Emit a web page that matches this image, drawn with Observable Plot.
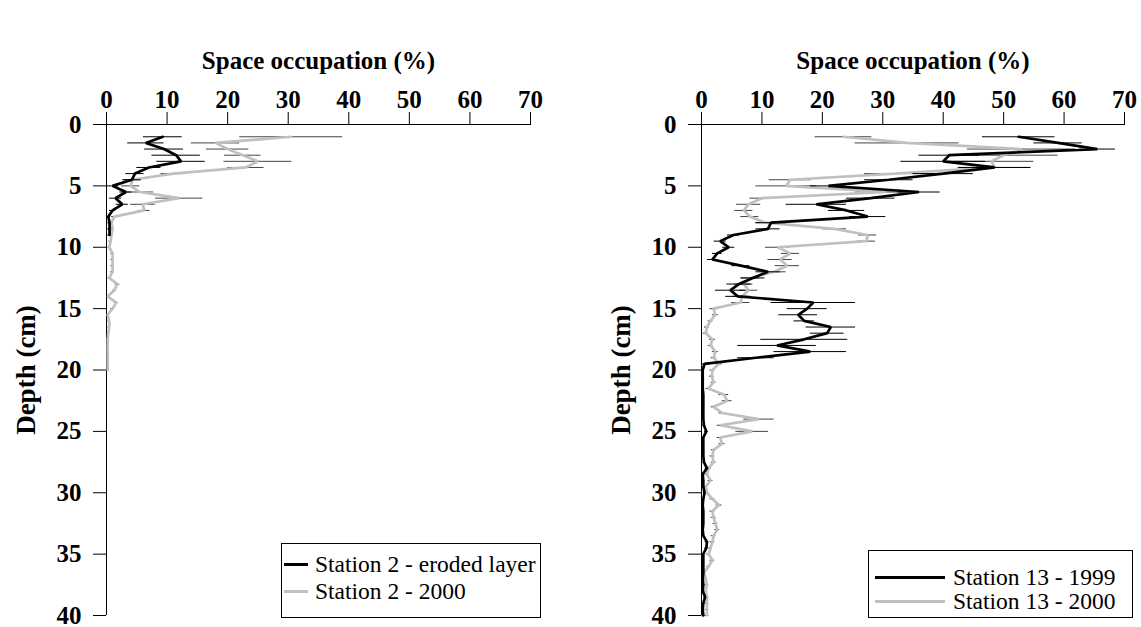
<!DOCTYPE html>
<html><head><meta charset="utf-8">
<script src="https://cdn.jsdelivr.net/npm/d3@7"></script>
<script src="https://cdn.jsdelivr.net/npm/@observablehq/plot@0.6"></script>
<style>
body{margin:0;background:#fff;width:1141px;height:627px;position:relative;overflow:hidden;font-family:"Liberation Serif","Times New Roman",serif;}
.panel{position:absolute;top:0;}
.legend{position:absolute;border:1px solid #000;background:#fff;font-size:23.5px;box-sizing:border-box;}
.row{position:absolute;left:0;height:0;}
.sw{position:absolute;top:-1.5px;height:3px;}
.lt{position:absolute;top:-13px;line-height:26px;white-space:nowrap;}
</style></head><body>
<div id="left" class="panel" style="left:0"></div>
<div id="right" class="panel" style="left:595px"></div>
<script>
// ---- data ----
const xTicks = [0, 10, 20, 30, 40, 50, 60, 70];
const yTicks = [0, 5, 10, 15, 20, 25, 30, 35, 40];
const depths = [1,1.5,2,2.5,3,3.5,4,4.5,5,5.5,6,6.5,7,7.5,8,8.5,9,9.5,10,10.5,
  11,11.5,12,12.5,13,13.5,14,14.5,15,15.5,16,16.5,17,17.5,18,18.5,19,19.5,20,20.5,
  21,21.5,22,22.5,23,23.5,24,24.5,25,25.5,26,26.5,27,27.5,28,28.5,29,29.5,30,30.5,
  31,31.5,32,32.5,33,33.5,34,34.5,35,35.5,36,36.5,37,37.5,38,38.5,39,39.5,40];

// Station 2 - eroded layer (depth 1 - 9 cm)
const st2ErodedVal = [9.3,6.5,9.5,11.5,12.3,7,4.7,4.2,1.0,3.2,1.5,2.6,1.0,0.3,0.5,0.5,0.5];
const st2ErodedErr = [3.2,3,3.2,4,4,2,1.5,1.5,1,1,1,1,0.5,0.3,0.3,0.3,0.3];
// Station 2 - 2000 (depth 1 - 20 cm)
const st2y2000Val = [30.5,18,20,22.5,25,23,11,4.3,4,5.5,12,6,6.2,1.3,0.8,1.0,0.8,0.7,0.45,1,
  1,1,1,0.45,1.8,1.3,0.2,1.6,1.0,0.2,0.45,0.45,0.3,0.2,0.2,0.2,0.2,0.2,0.2];
const st2y2000Err = [8.5,4,3.5,3,5.6,3,2,1.5,1.5,2.3,3.9,2,1,0.5,0.3,0.3,0.3,0.3,0.2,0.3,
  0.3,0.3,0.3,0.2,0.4,0.3,0.2,0.3,0.3,0.2,0.2,0.2,0.2,0.2,0.2,0.2,0.2,0.2,0.2];
// Station 13 - 1999 (depth 1 - 40 cm)
const st13y1999Val = [52.5,59,65.5,41,40,48.5,40,31,21,36,28,19,24,27.5,11.5,11,5.3,3.1,4.5,2.6,
  1.8,6.5,11,8.5,6.2,4.8,6,18.5,17.5,16,17,21.4,20.8,17,12.5,18,9,0.5,0.2,0.2,
  0.2,0.2,0.3,0.3,0.3,0.3,0.3,0.4,0.8,0.3,0.3,0.3,0.3,0.4,0.9,0.2,0.3,0.3,0.5,0.3,
  0.2,0.3,0.3,0.3,0.2,0.3,0.9,0.8,0.3,0.3,0.3,0.3,0.2,0.3,0.2,0.6,0.3,0.2,0.3];
const st13y1999Err = [6,4,3,5,7,6,5,4,3,3.5,4,5,3,3,2.5,2,1,1,1,0.8,
  0.8,1.5,2,2,2,2.5,2,7,3.3,3.2,1.7,4.1,2.8,7.2,6.5,6,3,0.5,0.3,0.3,
  0.2,0.2,0.2,0.2,0.2,0.2,0.2,0.2,0.3,0.2,0.2,0.2,0.2,0.2,0.3,0.2,0.2,0.2,0.2,0.2,
  0.2,0.2,0.2,0.2,0.2,0.2,0.3,0.3,0.2,0.2,0.2,0.2,0.2,0.2,0.2,0.2,0.2,0.2,0.2];
// Station 13 - 2000 (depth 1 - 40 cm)
const st13y2000Val = [23.5,34,53,50,48,48.5,32,14.7,14,30.5,10,7.8,7,8,10.5,22,27.5,27.3,12.6,14.7,
  13,14.2,12,8.1,7,7.8,6.7,6.5,2.0,2.3,1.5,0.9,0.7,1.8,1.5,2.3,2.0,2.9,1.8,1.7,
  2.0,1.1,3.7,4.25,2.0,3.4,9.5,3.1,8.4,3.1,3.4,2.0,1.8,2.0,1.2,0.9,1.5,0.7,0.9,1.8,
  2.9,1.8,2.0,2.3,2.6,2.0,1.8,1.5,1.2,1.8,1.2,0.4,0.7,0.9,0.7,0.9,0.9,0.9,0.9];
const st13y2000Err = [4.7,8.6,9,9,7,6,5,3.5,5,5,2,2,1.5,1.5,1.5,2,1.5,1.5,2,1.5,
  2,2,2,1.5,1.5,1.5,1.5,1.5,0.6,0.5,0.4,0.4,0.4,0.5,0.4,0.5,0.4,0.5,0.4,0.4,
  0.4,0.4,0.8,0.8,0.4,0.5,2.5,0.5,2.7,0.5,0.5,0.4,0.4,0.4,0.4,0.3,0.4,0.3,0.3,0.4,
  0.5,0.4,0.4,0.4,0.4,0.4,0.4,0.3,0.3,0.4,0.3,0.3,0.3,0.3,0.3,0.3,0.3,0.3,0.3];

const leftNames = ["Station 2 - eroded layer", "Station 2 - 2000"];
const rightNames = ["Station 13 - 1999", "Station 13 - 2000"];
const lineColors = ["#000000", "#c0c0c0"];
const barColors = ["#000000", "#444444"];

function rows(vals, errs) {
  return vals.map((v, i) => ({depth: depths[i], v, e: errs[i]}));
}

function panel(el, width, marginRight, seriesBlack, seriesGray) {
  const layer = (data, k) => [
    Plot.ruleY(data, {y: "depth", x1: d => Math.max(0, d.v - d.e), x2: d => d.v + d.e,
      stroke: barColors[k], strokeWidth: 1}),
    Plot.line(data, {x: "v", y: "depth", stroke: lineColors[k], strokeWidth: 2.7,
      strokeLinejoin: "miter"})
  ];
  const chart = Plot.plot({
    width, height: 627,
    marginTop: 124, marginLeft: 106, marginRight, marginBottom: 12,
    x: {domain: [0, 70]},
    y: {domain: [0, 40], reverse: true},
    style: {fontFamily: '"Liberation Serif", "Times New Roman", serif', background: "white", color: "black", overflow: "visible"},
    marks: [
      Plot.ruleY([0], {stroke: "black", strokeWidth: 1}),
      Plot.ruleX([0], {stroke: "black", strokeWidth: 1}),
      Plot.axisX({anchor: "top", ticks: xTicks, tickSize: 13, tickPadding: 4,
        fontSize: 25, fontWeight: "bold", label: null, tickFormat: d => String(d)}),
      Plot.axisY({anchor: "left", ticks: yTicks, tickSize: 13, tickPadding: 12,
        fontSize: 25, fontWeight: "bold", label: null, tickFormat: d => String(d)}),
      ...layer(seriesGray, 1),
      ...layer(seriesBlack, 0),
      Plot.text(["Space occupation (%)"], {frameAnchor: "top", dy: -64, lineAnchor: "middle",
        textAnchor: "middle", fontSize: 25, fontWeight: "bold"}),
      Plot.text(["Depth (cm)"], {frameAnchor: "left", dx: -80, rotate: -90, lineAnchor: "middle",
        textAnchor: "middle", fontSize: 27, fontWeight: "bold"})
    ]
  });
  document.getElementById(el).appendChild(chart);
}

function legend(names, box) {
  const lg = document.createElement("div");
  lg.className = "legend";
  Object.assign(lg.style, {left: box.left + "px", top: box.top + "px", width: box.w + "px", height: box.h + "px"});
  names.forEach((name, k) => {
    const r = document.createElement("div");
    r.className = "row";
    r.style.top = box.rows[k] + "px";
    const sw = document.createElement("div");
    sw.className = "sw";
    Object.assign(sw.style, {left: box.swX + "px", width: box.swW + "px", background: lineColors[k]});
    const t = document.createElement("div");
    t.className = "lt";
    t.style.left = box.tx + "px";
    t.textContent = name;
    r.appendChild(sw); r.appendChild(t);
    lg.appendChild(r);
  });
  document.body.appendChild(lg);
}

panel("left", 570, 40, rows(st2ErodedVal, st2ErodedErr), rows(st2y2000Val, st2y2000Err));
panel("right", 546, 17, rows(st13y1999Val, st13y1999Err), rows(st13y2000Val, st13y2000Err));

legend(leftNames, {left: 281, top: 543, w: 260, h: 75, rows: [20, 47], swX: 2, swW: 24, tx: 33});
legend(rightNames, {left: 868, top: 550, w: 265, h: 68, rows: [26, 50], swX: 6, swW: 70, tx: 84});
</script>
</body></html>
